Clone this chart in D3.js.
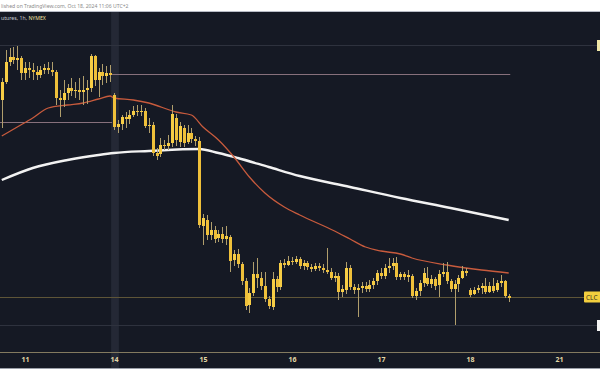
<!DOCTYPE html>
<html>
<head>
<meta charset="utf-8">
<script src="https://cdn.jsdelivr.net/npm/d3@7"></script>
<style>
  html, body { margin: 0; padding: 0; background: #fff; }
  svg { display: block; font-family: "Noto Sans", "DejaVu Sans", sans-serif; }
</style>
</head>
<body>
<div id="chart"></div>
<script>
// bar index 0 = first hourly bar of Oct 11; bars before it are from Oct 10
var firstBar = -6;
// [open, high, low, close]
var ohlc = [
  [74.40, 74.84, 73.84, 74.76], [74.76, 75.40, 74.72, 75.16], [75.16, 75.44, 75.08, 75.26],
  [75.26, 75.46, 75.12, 75.20], [75.20, 75.48, 75.00, 75.24], [75.24, 75.28, 74.80, 74.94],
  [74.94, 75.16, 74.80, 75.04], [75.04, 75.16, 74.84, 75.00], [75.00, 75.14, 74.80, 74.96],
  [74.96, 75.08, 74.80, 74.90], [74.90, 75.08, 74.84, 75.00], [75.00, 75.12, 74.92, 75.04],
  [75.04, 75.16, 74.92, 75.00], [75.00, 75.16, 74.88, 74.96], [74.96, 75.00, 74.30, 74.44],
  [74.44, 74.60, 74.06, 74.40], [74.40, 74.80, 74.26, 74.54], [74.54, 74.72, 74.40, 74.64],
  [74.64, 74.84, 74.48, 74.58], [74.58, 74.76, 74.44, 74.60], [74.60, 74.84, 74.40, 74.56],
  [74.56, 74.88, 74.30, 74.60], [74.60, 74.80, 74.32, 74.64], [74.64, 75.32, 74.56, 75.28],
  [75.28, 75.30, 74.68, 74.80], [74.80, 75.04, 74.46, 74.96], [74.96, 75.12, 74.70, 74.88],
  [74.88, 75.08, 74.74, 74.94], [74.94, 75.10, 74.76, 74.90],
  // Oct 14
  [74.50, 74.54, 73.80, 73.86], [73.86, 74.00, 73.74, 73.92], [73.92, 74.10, 73.80, 74.06],
  [74.06, 74.16, 73.84, 74.02], [74.02, 74.20, 73.92, 74.10], [74.10, 74.28, 74.06, 74.18],
  [74.18, 74.30, 74.08, 74.16], [74.16, 74.30, 74.08, 74.18], [74.18, 74.24, 73.84, 73.88],
  [73.88, 74.04, 73.74, 73.90], [73.90, 73.96, 73.28, 73.34], [73.34, 73.44, 73.20, 73.28],
  [73.32, 73.64, 73.26, 73.50], [73.50, 73.60, 73.40, 73.48], [73.48, 73.70, 73.40, 73.54],
  [73.54, 74.30, 73.46, 74.12], [74.04, 74.12, 73.48, 73.60], [73.56, 73.96, 73.46, 73.88],
  [73.84, 73.90, 73.46, 73.54], [73.56, 73.90, 73.52, 73.74], [73.74, 73.84, 73.54, 73.62],
  [73.62, 73.68, 73.48, 73.58], [73.58, 73.66, 71.84, 71.90],
  // Oct 15
  [71.88, 72.12, 71.50, 72.04], [72.00, 72.10, 71.60, 71.70], [71.70, 71.96, 71.60, 71.80],
  [71.80, 71.88, 71.54, 71.62], [71.64, 71.80, 71.56, 71.72], [71.72, 71.86, 71.54, 71.62],
  [71.62, 71.88, 71.50, 71.68], [71.66, 71.70, 70.96, 71.18], [71.20, 71.40, 71.08, 71.32],
  [71.32, 71.42, 71.04, 71.12], [71.12, 71.16, 70.70, 70.78], [70.78, 70.84, 70.20, 70.28],
  [70.30, 70.64, 70.14, 70.54], [70.54, 71.16, 70.48, 70.92], [70.92, 71.24, 70.64, 70.84],
  [70.84, 70.96, 70.60, 70.68], [70.68, 70.96, 70.36, 70.42], [70.42, 70.48, 70.22, 70.28],
  [70.26, 70.96, 70.20, 70.82], [70.82, 70.88, 70.56, 70.66], [70.66, 71.20, 70.60, 71.14],
  [71.14, 71.22, 71.04, 71.10], [71.10, 71.28, 71.08, 71.18],
  // Oct 16
  [71.18, 71.26, 71.10, 71.16], [71.16, 71.28, 71.12, 71.22], [71.22, 71.26, 71.02, 71.08],
  [71.08, 71.20, 71.00, 71.14], [71.14, 71.18, 71.00, 71.06], [71.06, 71.12, 70.96, 71.02],
  [71.02, 71.14, 70.98, 71.08], [71.08, 71.14, 70.98, 71.04], [71.04, 71.12, 70.94, 71.00],
  [71.00, 71.44, 70.92, 70.96], [70.96, 71.04, 70.80, 70.84], [70.84, 70.96, 70.76, 70.88],
  [70.88, 70.94, 70.40, 70.56], [70.56, 70.70, 70.46, 70.62], [70.60, 71.16, 70.52, 71.04],
  [71.04, 71.10, 70.60, 70.66], [70.66, 70.72, 70.52, 70.60], [70.60, 70.72, 70.06, 70.64],
  [70.64, 70.76, 70.54, 70.68], [70.68, 70.76, 70.56, 70.62], [70.62, 70.80, 70.56, 70.70],
  [70.70, 70.84, 70.62, 70.78], [70.78, 71.00, 70.70, 70.94],
  // Oct 17
  [70.94, 71.04, 70.82, 70.88], [70.88, 71.12, 70.82, 71.04], [71.04, 71.24, 70.94, 71.08],
  [71.08, 71.24, 71.00, 71.14], [71.14, 71.26, 70.80, 70.86], [70.86, 70.96, 70.80, 70.92],
  [70.92, 70.96, 70.80, 70.86], [70.86, 71.00, 70.76, 70.90], [70.88, 70.92, 70.44, 70.48],
  [70.48, 70.64, 70.40, 70.58], [70.58, 70.80, 70.48, 70.74], [70.74, 71.04, 70.66, 70.94],
  [70.84, 71.06, 70.68, 70.72], [70.72, 70.90, 70.64, 70.82], [70.82, 70.86, 70.60, 70.68],
  [70.70, 71.00, 70.46, 70.92], [70.92, 71.14, 70.86, 70.96], [70.96, 71.16, 70.72, 70.78],
  [70.78, 70.82, 70.56, 70.62], [70.62, 70.80, 69.90, 70.72], [70.72, 70.90, 70.56, 70.84],
  [70.84, 71.08, 70.82, 70.98], [70.98, 71.04, 70.88, 70.94],
  // Oct 18
  [70.60, 70.64, 70.46, 70.50], [70.52, 70.66, 70.50, 70.60], [70.60, 70.70, 70.54, 70.64],
  [70.64, 70.74, 70.52, 70.68], [70.68, 70.84, 70.52, 70.56], [70.56, 70.76, 70.54, 70.68],
  [70.68, 70.84, 70.54, 70.58], [70.60, 70.80, 70.56, 70.74], [70.74, 70.90, 70.66, 70.78],
  [70.78, 70.80, 70.44, 70.48], [70.48, 70.52, 70.36, 70.44]
];

// [bar index, value]
var emaFast = [[-6, 73.68], [-2, 73.86], [2, 74.04], [6, 74.24], [11, 74.30], [15, 74.34],
  [19, 74.42], [22, 74.48], [23, 74.44], [28, 74.40], [32, 74.34], [39, 74.16], [43, 74.10],
  [46, 73.86], [50, 73.60], [54, 73.26], [58, 72.86], [62, 72.54], [67, 72.26], [71, 72.10],
  [80, 71.78], [84, 71.62], [88, 71.46], [92, 71.38], [97, 71.32], [100, 71.24], [109, 71.10],
  [118, 71.00], [125, 70.94]];
var emaSlow = [[-6, 72.80], [2, 73.04], [11, 73.20], [19, 73.30], [23, 73.34], [32, 73.38],
  [45, 73.42], [50, 73.34], [55, 73.24], [63, 73.06], [71, 72.88], [84, 72.66], [97, 72.44],
  [110, 72.24], [125, 72.00]];

var dayTicks = [0, 23, 46, 69, 92, 115, 138];
var dayLabels = ["11", "14", "15", "16", "17", "18", "21"];

var lastPrice = 70.46;
var alertPrices = [75.50, 69.90];
// drawn horizontal lines: [price, from bar, to bar]
var rays = [[73.96, -7, 22.5], [74.92, 22.5, 125.4]];

var W = 600, H = 385;
var plotTop = 12, plotBottom = 352, axisBottom = 368;

var svg = d3.select("#chart").append("svg")
  .attr("width", W)
  .attr("height", H);

svg.append("rect").attr("x", 0).attr("y", 0).attr("width", W).attr("height", H).attr("fill", "#fff");
svg.append("rect")
  .attr("x", 0).attr("y", plotTop)
  .attr("width", W).attr("height", axisBottom - plotTop)
  .attr("fill", "#151924");
svg.append("line").attr("x1", 0).attr("x2", W).attr("y1", plotTop - 0.5).attr("y2", plotTop - 0.5)
  .attr("stroke", "#b8bcc6");
svg.append("line").attr("x1", 0).attr("x2", W).attr("y1", axisBottom + 0.5).attr("y2", axisBottom + 0.5)
  .attr("stroke", "#9a9ea8");

var x = d3.scaleLinear().domain([0, 138]).range([25, 559]);
var y = d3.scaleLinear().domain([69.36, 76.16]).range([plotBottom, plotTop]);
var step = x(1) - x(0);

svg.append("defs").append("clipPath").attr("id", "plot")
  .append("rect").attr("x", 0).attr("y", plotTop).attr("width", W).attr("height", plotBottom - plotTop);

// weekend highlight
svg.append("rect")
  .attr("x", x(23) - step + 1).attr("y", plotTop)
  .attr("width", step * 2).attr("height", axisBottom - plotTop)
  .attr("fill", "#242835");

var g = svg.append("g").attr("clip-path", "url(#plot)");

g.selectAll(".alert").data(alertPrices).enter().append("line")
  .attr("x1", 0).attr("x2", W)
  .attr("y1", function(d) { return Math.round(y(d)) + 0.5; })
  .attr("y2", function(d) { return Math.round(y(d)) + 0.5; })
  .attr("stroke", "#2e323e");

g.append("line")
  .attr("x1", 0).attr("x2", W)
  .attr("y1", Math.round(y(lastPrice)) + 0.5).attr("y2", Math.round(y(lastPrice)) + 0.5)
  .attr("stroke", "#5e5538");

g.selectAll(".ray").data(rays).enter().append("line")
  .attr("x1", function(d) { return x(d[1]); })
  .attr("x2", function(d) { return x(d[2]); })
  .attr("y1", function(d) { return Math.round(y(d[0])) + 0.5; })
  .attr("y2", function(d) { return Math.round(y(d[0])) + 0.5; })
  .attr("stroke", "#87707c")
  .attr("stroke-width", 1);

var line = d3.line()
  .x(function(d) { return x(d[0]); })
  .y(function(d) { return y(d[1]); })
  .curve(d3.curveMonotoneX);

g.append("path").datum(emaSlow)
  .attr("d", line)
  .attr("fill", "none")
  .attr("stroke", "#f2f2f2")
  .attr("stroke-width", 2.4);

g.append("path").datum(emaFast)
  .attr("d", line)
  .attr("fill", "none")
  .attr("stroke", "#c85b3d")
  .attr("stroke-width", 1.3);

var bars = g.selectAll(".bar").data(ohlc).enter().append("g")
  .attr("class", "bar");

bars.append("line")
  .attr("x1", function(d, i) { return Math.round(x(firstBar + i)) + 0.5; })
  .attr("x2", function(d, i) { return Math.round(x(firstBar + i)) + 0.5; })
  .attr("y1", function(d) { return y(d[1]); })
  .attr("y2", function(d) { return y(d[2]); })
  .attr("stroke", "#b09e6c")
  .attr("stroke-width", 1);

bars.append("rect")
  .attr("x", function(d, i) { return Math.round(x(firstBar + i)) - 1; })
  .attr("width", 3)
  .attr("y", function(d) { return y(Math.max(d[0], d[3])); })
  .attr("height", function(d) { return Math.max(1, Math.abs(y(d[0]) - y(d[3]))); })
  .attr("fill", function(d) { return d[3] >= d[0] ? "#f7cd45" : "#efc03a"; });

// time axis
svg.append("line").attr("x1", 0).attr("x2", W)
  .attr("y1", plotBottom + 0.5).attr("y2", plotBottom + 0.5)
  .attr("stroke", "#837a5f");

var xAxis = d3.axisBottom(x)
  .tickValues(dayTicks)
  .tickFormat(function(d, i) { return dayLabels[i]; })
  .tickSize(0)
  .tickPadding(5);

var ax = svg.append("g")
  .attr("transform", "translate(0," + plotBottom + ")")
  .call(xAxis);
ax.select(".domain").remove();
ax.selectAll("text")
  .attr("fill", "#e2d8a6")
  .attr("font-size", 7)
  .attr("font-weight", "bold")
  .attr("font-family", "\"Noto Sans\", sans-serif");

// price labels on the right edge
var lastY = Math.round(y(lastPrice));
svg.append("rect").attr("x", 584).attr("y", lastY - 5.5).attr("width", 20).attr("height", 11)
  .attr("rx", 1).attr("fill", "#f3cf3e");
svg.append("text").attr("x", 586).attr("y", lastY + 2.5)
  .attr("font-size", 6.5).attr("fill", "#3a3220").text("CLC");
svg.append("rect").attr("x", 597).attr("y", Math.round(y(alertPrices[0])) - 5).attr("width", 6).attr("height", 11)
  .attr("fill", "#efe6a6");
svg.append("rect").attr("x", 597).attr("y", Math.round(y(alertPrices[1])) - 5).attr("width", 6).attr("height", 11)
  .attr("fill", "#f4f4f4");

// header texts (only the part visible in the cropped screenshot)
svg.append("text").attr("x", 1).attr("y", 7.5)
  .attr("font-size", 5.1).attr("fill", "#8a8a8a")
  .text("lished on TradingView.com, Oct 18, 2024 11:06 UTC+2");

var title = svg.append("text").attr("x", 1).attr("y", 19.5)
  .attr("font-size", 5.2).attr("fill", "#c9ccd4");
title.append("tspan").text("utures, 1h, ");
title.append("tspan").attr("fill", "#efe2a2").text("NYMEX");
</script>
</body>
</html>
